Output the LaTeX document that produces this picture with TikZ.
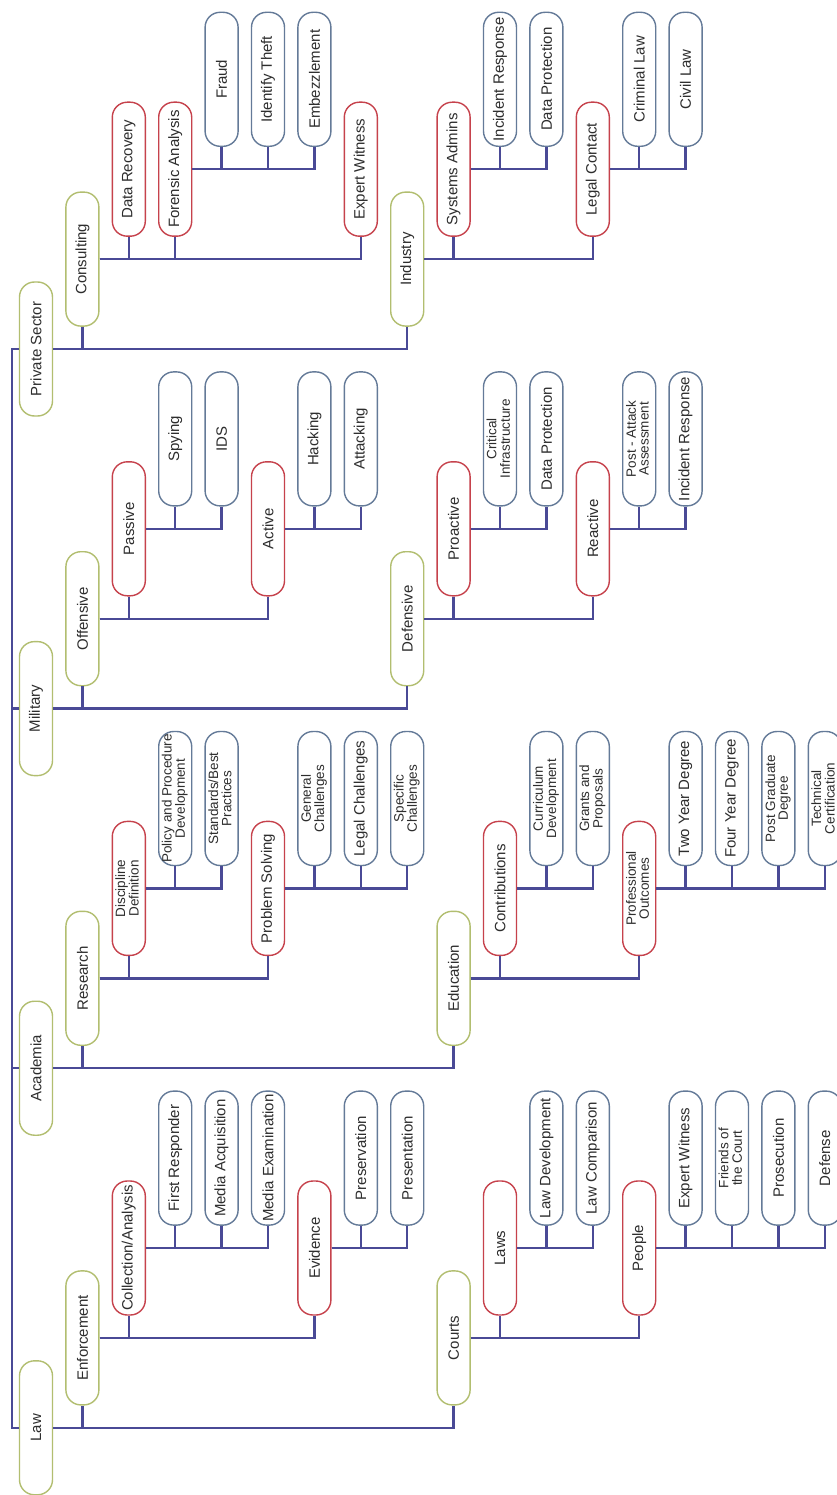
\documentclass[tikz,border=0pt]{standalone}
\usepackage{graphicx}
\usepackage{fontspec}
\setmainfont{Liberation Sans}
\definecolor{grn}{RGB}{178,190,112}
\definecolor{rd}{RGB}{198,66,76}
\definecolor{blu}{RGB}{100,122,152}
\definecolor{lnk}{RGB}{74,74,150}
\definecolor{txt}{RGB}{45,45,45}
% rotated labels: one line, and two lines in a smaller size
\newcommand\lbl[1]{\rotatebox{90}{#1}}
\newcommand\lbltwo[2]{\rotatebox{90}{\fontsize{13.5}{12}\selectfont\begin{tabular}{@{}c@{}}#1\\#2\end{tabular}}}
\tikzset{
  box/.style={draw, fill=white, rounded corners=15pt, minimum width=33pt,
    minimum height=134pt, inner sep=0pt, line width=1.4pt, text=txt,
    font=\fontsize{15}{15}\selectfont},
  gbox/.style={box, draw=grn},
  rbox/.style={box, draw=rd},
  bbox/.style={box, draw=blu},
  link/.style={draw=lnk, line width=2.4pt}
}
\begin{document}
\begin{tikzpicture}
\fill[white] (0pt,0pt) rectangle (837pt,-1495pt);
\useasboundingbox (0pt,0pt) rectangle (837pt,-1495pt);
\clip (0pt,0pt) rectangle (837pt,-1495pt);
\begin{scope}[x=46.4pt, y=-89.9pt, shift={(36pt,-349pt)}]
% ---- Private Sector
\node[gbox] (ps) at (0,0) {\lbl{Private Sector}};
\node[gbox] (cons) at (1,-1) {\lbl{Consulting}};
\node[rbox] (drec) at (2,-2) {\lbl{Data Recovery}};
\node[rbox] (fana) at (3,-2) {\lbl{Forensic Analysis}};
\node[bbox] (fraud) at (4,-3) {\lbl{Fraud}};
\node[bbox] (idth) at (5,-3) {\lbl{Identify Theft}};
\node[bbox] (embz) at (6,-3) {\lbl{Embezzlement}};
\node[rbox] (expw) at (7,-2) {\lbl{Expert Witness}};
\node[gbox] (ind) at (8,-1) {\lbl{Industry}};
\node[rbox] (sysa) at (9,-2) {\lbl{Systems Admins}};
\node[bbox] (incra) at (10,-3) {\lbl{Incident Response}};
\node[bbox] (dproa) at (11,-3) {\lbl{Data Protection}};
\node[rbox] (legc) at (12,-2) {\lbl{Legal Contact}};
\node[bbox] (crim) at (13,-3) {\lbl{Criminal Law}};
\node[bbox] (civl) at (14,-3) {\lbl{Civil Law}};
% ---- Military
\node[gbox] (mil) at (0,4) {\lbl{Military}};
\node[gbox] (off) at (1,3) {\lbl{Offensive}};
\node[rbox] (pas) at (2,2) {\lbl{Passive}};
\node[bbox] (spy) at (3,1) {\lbl{Spying}};
\node[bbox] (ids) at (4,1) {\lbl{IDS}};
\node[rbox] (act) at (5,2) {\lbl{Active}};
\node[bbox] (hack) at (6,1) {\lbl{Hacking}};
\node[bbox] (attk) at (7,1) {\lbl{Attacking}};
\node[gbox] (dfv) at (8,3) {\lbl{Defensive}};
\node[rbox] (proa) at (9,2) {\lbl{Proactive}};
\node[bbox] (crit) at (10,1) {\lbltwo{Critical}{Infrastructure}};
\node[bbox] (dprob) at (11,1) {\lbl{Data Protection}};
\node[rbox] (reac) at (12,2) {\lbl{Reactive}};
\node[bbox] (post) at (13,1) {\lbltwo{Post - Attack}{Assessment}};
\node[bbox] (incrb) at (14,1) {\lbl{Incident Response}};
% ---- Academia
\node[gbox] (aca) at (0,8) {\lbl{Academia}};
\node[gbox] (res) at (1,7) {\lbl{Research}};
\node[rbox] (disc) at (2,6) {\lbltwo{Discipline}{Definition}};
\node[bbox] (pol) at (3,5) {\lbltwo{Policy and Procedure}{Development}};
\node[bbox] (std) at (4,5) {\lbltwo{Standards/Best}{Practices}};
\node[rbox] (prob) at (5,6) {\lbl{Problem Solving}};
\node[bbox] (gen) at (6,5) {\lbltwo{General}{Challenges}};
\node[bbox] (legch) at (7,5) {\lbl{Legal Challenges}};
\node[bbox] (spec) at (8,5) {\lbltwo{Specific}{Challenges}};
\node[gbox] (edu) at (9,7) {\lbl{Education}};
\node[rbox] (contr) at (10,6) {\lbl{Contributions}};
\node[bbox] (curr) at (11,5) {\lbltwo{Curriculum}{Development}};
\node[bbox] (grant) at (12,5) {\lbltwo{Grants and}{Proposals}};
\node[rbox] (prof) at (13,6) {\lbltwo{Professional}{Outcomes}};
\node[bbox] (twoy) at (14,5) {\lbl{Two Year Degree}};
\node[bbox] (foury) at (15,5) {\lbl{Four Year Degree}};
\node[bbox] (pgd) at (16,5) {\lbltwo{Post Graduate}{Degree}};
\node[bbox] (tech) at (17,5) {\lbltwo{Technical}{Certification}};
% ---- Law
\node[gbox] (law) at (0,12) {\lbl{Law}};
\node[gbox] (enf) at (1,11) {\lbl{Enforcement}};
\node[rbox] (coll) at (2,10) {\lbl{Collection/Analysis}};
\node[bbox] (frst) at (3,9) {\lbl{First Responder}};
\node[bbox] (macq) at (4,9) {\lbl{Media Acquisition}};
\node[bbox] (mexa) at (5,9) {\lbl{Media Examination}};
\node[rbox] (evid) at (6,10) {\lbl{Evidence}};
\node[bbox] (pres) at (7,9) {\lbl{Preservation}};
\node[bbox] (prst) at (8,9) {\lbl{Presentation}};
\node[gbox] (crts) at (9,11) {\lbl{Courts}};
\node[rbox] (laws) at (10,10) {\lbl{Laws}};
\node[bbox] (ldev) at (11,9) {\lbl{Law Development}};
\node[bbox] (lcmp) at (12,9) {\lbl{Law Comparison}};
\node[rbox] (peop) at (13,10) {\lbl{People}};
\node[bbox] (expwb) at (14,9) {\lbl{Expert Witness}};
\node[bbox] (frnd) at (15,9) {\lbltwo{Friends of}{the Court}};
\node[bbox] (pros) at (16,9) {\lbl{Prosecution}};
\node[bbox] (dfns) at (17,9) {\lbl{Defense}};
% ---- trunk joining the four sectors
\draw[link] (ps.west) -- ++(-7pt,0pt) |- (law.west);
\draw[link] (mil.west) -- ++(-7pt,0pt);
\draw[link] (aca.west) -- ++(-7pt,0pt);
% ---- parent to child connectors
\foreach \p/\c in {ps/cons, ps/ind, cons/drec, cons/fana, cons/expw,
    fana/fraud, fana/idth, fana/embz, ind/sysa, ind/legc, sysa/incra,
    sysa/dproa, legc/crim, legc/civl,
    mil/off, mil/dfv, off/pas, off/act, pas/spy, pas/ids, act/hack,
    act/attk, dfv/proa, dfv/reac, proa/crit, proa/dprob, reac/post, reac/incrb,
    aca/res, aca/edu, res/disc, res/prob, disc/pol, disc/std, prob/gen,
    prob/legch, prob/spec, edu/contr, edu/prof, contr/curr, contr/grant,
    prof/twoy, prof/foury, prof/pgd, prof/tech,
    law/enf, law/crts, enf/coll, enf/evid, coll/frst, coll/macq, coll/mexa,
    evid/pres, evid/prst, crts/laws, crts/peop, laws/ldev, laws/lcmp,
    peop/expwb, peop/frnd, peop/pros, peop/dfns}
  \draw[link] (\p.east) -| (\c.south);
\end{scope}
\end{tikzpicture}
\end{document}
